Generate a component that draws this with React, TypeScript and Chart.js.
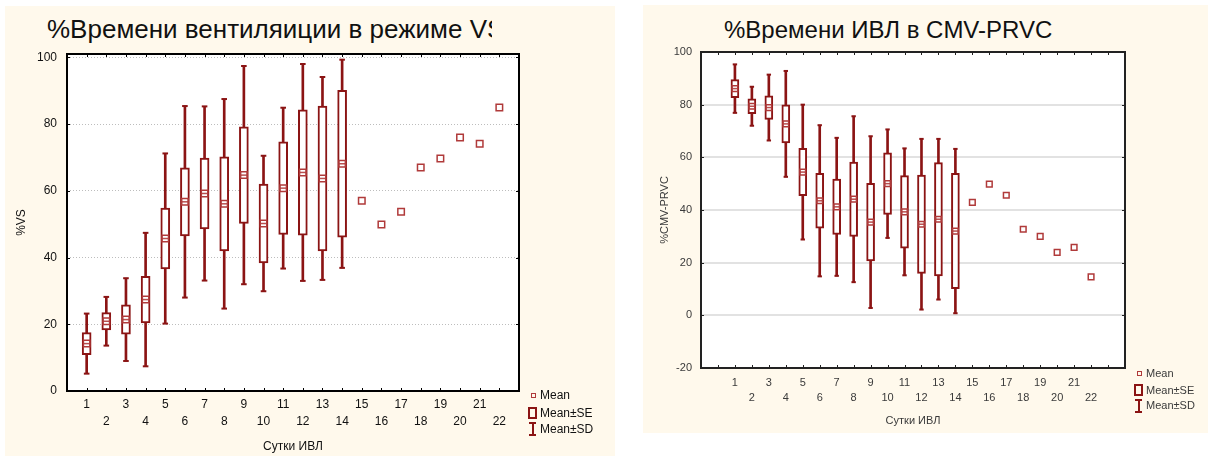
import React, { useEffect, useRef } from 'react';
import { Chart, registerables } from 'chart.js';

Chart.register(...registerables);

// ---------- data ----------
const DAYS = [1, 2, 3, 4, 5, 6, 7, 8, 9, 10, 11, 12, 13, 14, 15, 16, 17, 18, 19, 20, 21, 22];
const BOX_DAYS = [1, 2, 3, 4, 5, 6, 7, 8, 9, 10, 11, 12, 13, 14];

// %Времени вентиляции в режиме VS
const VS_MEAN = [14.2, 20.9, 21.4, 27.4, 45.7, 56.7, 59.2, 56.1, 64.7, 50.2, 60.8, 65.5, 63.7, 68.1, 57.0, 49.9, 53.7, 67.0, 69.7, 76.0, 74.1, 85.0];
const VS_SE = [3.3, 2.6, 4.4, 7.0, 9.1, 10.2, 10.6, 14.1, 14.5, 11.8, 13.9, 18.8, 21.7, 22.0];
const VS_SD = [9.0, 7.3, 12.4, 20.0, 25.5, 28.7, 26.1, 31.4, 32.7, 20.3, 24.1, 32.5, 30.4, 31.2];
const VS_Y_TICKS = [0, 20, 40, 60, 80, 100];

// %Времени ИВЛ в CMV-PRVC
const CMV_MEAN = [86.1, 79.4, 78.9, 72.7, 54.4, 43.5, 41.2, 44.1, 35.4, 50.0, 39.3, 34.6, 36.5, 32.0, 42.9, 49.8, 45.6, 32.7, 30.0, 23.9, 25.8, 14.6];
const CMV_SE = [3.4, 2.8, 4.5, 7.2, 9.0, 10.4, 10.5, 14.1, 14.7, 11.7, 13.8, 18.7, 21.5, 21.9];
const CMV_SD = [9.2, 7.4, 12.5, 20.1, 25.6, 28.7, 26.2, 31.5, 32.6, 20.6, 24.1, 32.4, 30.5, 31.2];
const CMV_Y_TICKS = [-20, 0, 20, 40, 60, 80, 100];

const FONT = "'Liberation Sans', Arial, Helvetica, sans-serif";
const RED = '#8b1414';
const MARK = '#b03a3a';
const CREAM = '#fff9ec';

type Spec = {
  width: number; height: number;
  area: { left: number; top: number; right: number; bottom: number };
  xMin: number; xMax: number; yMin: number; yMax: number; yTicks: number[];
  mean: number[]; se: number[]; sd: number[];
  xTitle: string; yTitle: string;
  tickFont: number; titleFont: number; rowHeight: number;
  labelPad: number; xTitlePad: number; yTitlePad: number; yLabelPad: number;
  gridColor: string; gridWidth: number; gridDash: number[];
  frameColor: string; frameWidth: number; tickLen: number;
  boxWidth: number; boxLine: number; capRadius: number; meanRadius: number;
  textColor: string;
};

const framePlugin = {
  id: 'frame',
  beforeDraw(chart: any) {
    const { ctx, chartArea: a } = chart;
    ctx.save();
    ctx.fillStyle = '#ffffff';
    ctx.fillRect(a.left, a.top, a.right - a.left, a.bottom - a.top);
    ctx.restore();
  },
  afterDraw(chart: any, _args: any, opts: any) {
    const { ctx, chartArea: a, scales } = chart;
    const xs = scales.x;
    const ys = scales.y;
    ctx.save();
    ctx.strokeStyle = opts.color;
    ctx.lineWidth = 1;
    ctx.beginPath();
    xs.ticks.forEach((t: any) => {
      if (t.value <= xs.min || t.value >= xs.max) return;
      const px = Math.round(xs.getPixelForValue(t.value)) + 0.5;
      ctx.moveTo(px, a.top);
      ctx.lineTo(px, a.top + opts.len);
      ctx.moveTo(px, a.bottom);
      ctx.lineTo(px, a.bottom - opts.len);
    });
    ys.ticks.forEach((t: any) => {
      const py = Math.round(ys.getPixelForValue(t.value)) + 0.5;
      ctx.moveTo(a.left, py);
      ctx.lineTo(a.left + opts.len, py);
      ctx.moveTo(a.right, py);
      ctx.lineTo(a.right - opts.len, py);
    });
    ctx.stroke();
    ctx.lineWidth = opts.width;
    ctx.strokeRect(a.left, a.top, a.right - a.left, a.bottom - a.top);
    ctx.restore();
  },
};

function buildConfig(s: Spec): any {
  const boxData = BOX_DAYS.map((d, i) => ({ x: d, y: [s.mean[i] - s.se[i], s.mean[i] + s.se[i]] }));
  const sdData = BOX_DAYS.map((d, i) => ({ x: d, y: [s.mean[i] - s.sd[i], s.mean[i] + s.sd[i]] }));
  const caps = BOX_DAYS.map((d, i) => ({ x: d, y: s.mean[i] + s.sd[i] })).concat(
    BOX_DAYS.map((d, i) => ({ x: d, y: s.mean[i] - s.sd[i] }))
  );
  const meanLine = BOX_DAYS.map((d, i) => ({ x: d, y: s.mean[i] }));
  const meanPts = DAYS.map((d, i) => ({ x: d, y: s.mean[i] }));
  const tickFont = { family: FONT, size: s.tickFont, lineHeight: s.rowHeight / s.tickFont };
  const titleFont = { family: FONT, size: s.titleFont };

  return {
    type: 'bar',
    data: {
      datasets: [
        {
          type: 'scatter', label: 'Mean', data: meanPts,
          pointStyle: 'rect', pointRadius: s.meanRadius, pointBorderWidth: 1.5,
          pointBorderColor: MARK, borderColor: MARK, pointBackgroundColor: 'rgba(255,255,255,0)',
        },
        {
          type: 'scatter', label: 'mean line', data: meanLine,
          pointStyle: 'line', pointRadius: s.boxWidth / 2 - 1, pointBorderWidth: 1.5,
          pointBorderColor: '#b85050', borderColor: '#b85050',
        },
        {
          type: 'bar', label: 'Mean±SE', data: boxData,
          backgroundColor: '#ffffff', borderColor: RED, borderWidth: s.boxLine,
          borderSkipped: false, barThickness: s.boxWidth, grouped: false,
        },
        {
          type: 'bar', label: 'Mean±SD', data: sdData,
          backgroundColor: RED, borderWidth: 0, barThickness: 2, grouped: false,
        },
        {
          type: 'scatter', label: 'caps', data: caps,
          pointStyle: 'line', pointRadius: s.capRadius, pointBorderWidth: 2,
          pointBorderColor: RED, borderColor: RED,
        },
      ],
    },
    options: {
      responsive: false,
      animation: false,
      devicePixelRatio: 1,
      events: [],
      layout: { padding: { left: 0, top: s.area.top, right: s.width - s.area.right, bottom: 0 } },
      plugins: {
        legend: { display: false },
        tooltip: { enabled: false },
        frame: { color: s.frameColor, width: s.frameWidth, len: s.tickLen },
      },
      scales: {
        x: {
          type: 'linear', position: 'bottom', min: s.xMin, max: s.xMax, offset: false,
          grid: { display: false, offset: false, drawTicks: false },
          border: { display: false },
          ticks: {
            stepSize: 1, autoSkip: false, maxRotation: 0, minRotation: 0,
            padding: s.labelPad, color: s.textColor, font: tickFont,
            callback: (v: any) => {
              const n = Number(v);
              if (!Number.isInteger(n) || n < 1 || n > 22) return '';
              return n % 2 ? [String(n), ''] : ['', String(n)];
            },
          },
          title: {
            display: true, text: s.xTitle, color: s.textColor, font: titleFont,
            padding: { top: 0, bottom: s.xTitlePad },
          },
          afterFit: (sc: any) => { sc.height = s.height - s.area.bottom; },
        },
        y: {
          type: 'linear', min: s.yMin, max: s.yMax,
          afterBuildTicks: (sc: any) => { sc.ticks = s.yTicks.map((v) => ({ value: v })); },
          grid: { color: s.gridColor, lineWidth: s.gridWidth, drawTicks: false },
          border: { display: false, dash: s.gridDash },
          ticks: { padding: s.yLabelPad, color: s.textColor, font: { family: FONT, size: s.tickFont } },
          title: {
            display: true, text: s.yTitle, color: s.textColor, font: titleFont,
            padding: { top: s.yTitlePad, bottom: 0 },
          },
          afterFit: (sc: any) => { sc.width = s.area.left; },
        },
      },
    },
    plugins: [framePlugin],
  };
}

function StatChart({ spec, left, top }: { spec: Spec; left: number; top: number }) {
  const ref = useRef<HTMLCanvasElement | null>(null);
  useEffect(() => {
    if (!ref.current) return;
    const chart = new Chart(ref.current, buildConfig(spec));
    return () => chart.destroy();
  }, [spec]);
  return (
    <canvas
      ref={ref}
      width={spec.width}
      height={spec.height}
      style={{ position: 'absolute', left, top, width: spec.width, height: spec.height }}
    />
  );
}

const VS_SPEC: Spec = {
  width: 615, height: 459,
  area: { left: 67, top: 54, right: 519, bottom: 391 },
  xMin: 0, xMax: 23, yMin: 0, yMax: 101, yTicks: VS_Y_TICKS,
  mean: VS_MEAN, se: VS_SE, sd: VS_SD,
  xTitle: 'Сутки ИВЛ', yTitle: '%VS',
  tickFont: 12, titleFont: 12, rowHeight: 16.7,
  labelPad: 5.5, xTitlePad: 5, yTitlePad: 14.5, yLabelPad: 10,
  gridColor: '#bdbdbd', gridWidth: 1, gridDash: [1, 2],
  frameColor: '#000000', frameWidth: 2, tickLen: 3,
  boxWidth: 9, boxLine: 2, capRadius: 2.8, meanRadius: 4.6,
  textColor: '#111111',
};

const CMV_SPEC: Spec = {
  width: 588, height: 459,
  area: { left: 81, top: 52, right: 505, bottom: 368 },
  xMin: -1, xMax: 24, yMin: -20, yMax: 100, yTicks: CMV_Y_TICKS,
  mean: CMV_MEAN, se: CMV_SE, sd: CMV_SD,
  xTitle: 'Сутки ИВЛ', yTitle: '%CMV-PRVC',
  tickFont: 11, titleFont: 11, rowHeight: 15,
  labelPad: 7.5, xTitlePad: 31, yTitlePad: 38, yLabelPad: 9,
  gridColor: '#e2e2e2', gridWidth: 2, gridDash: [],
  frameColor: '#222222', frameWidth: 2, tickLen: 3,
  boxWidth: 8, boxLine: 2, capRadius: 2.2, meanRadius: 4,
  textColor: '#3a3a3a',
};

const abs = (l: number, t: number, w: number, h: number, extra: any = {}) => ({
  position: 'absolute' as const, left: l, top: t, width: w, height: h, ...extra,
});

function LegendBlock({ x, y, rowY, size, color }: { x: number; y: number; rowY: number[]; size: number; color: string }) {
  const text = { fontFamily: FONT, fontSize: size, color, lineHeight: '14px', whiteSpace: 'nowrap' as const };
  return (
    <>
      <div style={abs(x + 1, rowY[0] - 2.5, 5, 5, { border: `1px solid ${MARK}`, boxSizing: 'border-box' })} />
      <div style={abs(x + 10, rowY[0] - 7, 60, 14, text)}>Mean</div>
      <div style={abs(x - 2, rowY[1] - 6, 9, 12, { border: `2px solid ${RED}`, boxSizing: 'border-box' })} />
      <div style={abs(x + 10, rowY[1] - 7, 80, 14, text)}>Mean±SE</div>
      <div style={abs(x - 1, y, 7, 2, { background: RED })} />
      <div style={abs(x + 1.5, y, 2, 14, { background: RED })} />
      <div style={abs(x - 1, y + 12, 7, 2, { background: RED })} />
      <div style={abs(x + 10, rowY[2] - 7, 80, 14, text)}>Mean±SD</div>
    </>
  );
}

export default function App() {
  const titleBase = {
    fontFamily: FONT, color: '#111', whiteSpace: 'nowrap' as const, overflow: 'hidden',
  };
  return (
    <div style={{ position: 'fixed', left: 0, top: 0, width: 1208, height: 459, background: '#ffffff', overflow: 'hidden' }}>
      <div style={abs(5, 6, 610, 450, { background: CREAM })} />
      <div style={abs(643, 5, 565, 428, { background: CREAM })} />
      <div style={abs(47, 16, 445, 30, { ...titleBase, fontSize: 26, lineHeight: '26px' })}>%Времени вентиляиции в режиме VS</div>
      <div style={abs(724, 18, 420, 28, { ...titleBase, fontSize: 24, lineHeight: '24px' })}>%Времени ИВЛ в CMV-PRVC</div>
      <StatChart spec={VS_SPEC} left={0} top={0} />
      <StatChart spec={CMV_SPEC} left={620} top={0} />
      <LegendBlock x={530} y={422} rowY={[395, 413, 429]} size={12} color="#111" />
      <LegendBlock x={1136} y={399} rowY={[373, 390, 405]} size={11} color="#3a3a3a" />
    </div>
  );
}
